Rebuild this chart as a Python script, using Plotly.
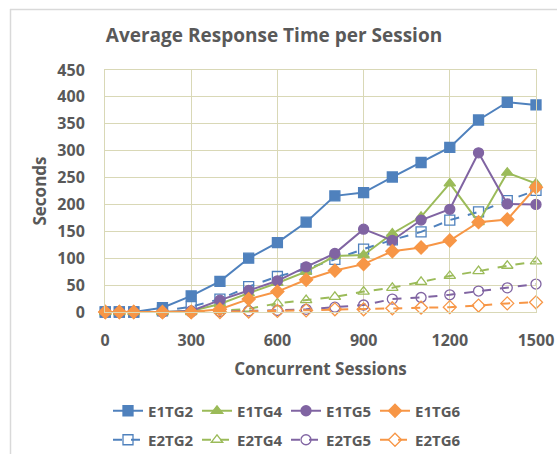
import plotly.graph_objects as go

sessions = [1, 50, 100, 200, 300, 400, 500, 600, 700, 800, 900, 1000, 1100, 1200, 1300, 1400, 1500]

e1tg2 = [0, 0, 0, 8, 30, 57, 100, 129, 167, 216, 222, 251, 278, 306, 357, 390, 385]
e1tg4 = [0, 0, 0, 0, 2, 15, 35, 54, 75, 104, 106, 146, 177, 239, 167, 259, 239]
e1tg5 = [0, 0, 0, 0, 2, 22, 40, 58, 84, 109, 154, 133, 171, 191, 296, 201, 200]
e1tg6 = [0, 0, 0, 0, 0, 5, 24, 38, 60, 77, 89, 113, 120, 133, 167, 172, 232]
e2tg2 = [0, 0, 0, 2, 10, 24, 47, 66, 80, 98, 117, 134, 149, 171, 186, 207, 226]
e2tg4 = [0, 0, 0, 0, 0, 2, 6, 16, 22, 28, 38, 45, 56, 67, 76, 86, 94]
e2tg5 = [0, 0, 0, 0, 0, 1, 2, 3, 5, 9, 13, 24, 27, 32, 39, 45, 52]
e2tg6 = [0, 0, 0, 0, 0, 0, 1, 2, 3, 5, 5, 7, 8, 9, 12, 16, 18]

BLUE = "#4F81BD"
GREEN = "#9BBB59"
PURPLE = "#8064A2"
ORANGE = "#F79646"
TXT = "#595959"
GRID = "#D9D8B6"
FONT = "Open Sans"

series = [
    ("E1TG2", e1tg2, BLUE, "square", "solid", "legend"),
    ("E1TG4", e1tg4, GREEN, "triangle-up", "solid", "legend"),
    ("E1TG5", e1tg5, PURPLE, "circle", "solid", "legend"),
    ("E1TG6", e1tg6, ORANGE, "diamond", "solid", "legend"),
    ("E2TG2", e2tg2, BLUE, "square-open", "dash", "legend2"),
    ("E2TG4", e2tg4, GREEN, "triangle-up-open", "dash", "legend2"),
    ("E2TG5", e2tg5, PURPLE, "circle-open", "dash", "legend2"),
    ("E2TG6", e2tg6, ORANGE, "diamond-open", "dash", "legend2"),
]
rank = {"E1TG2": 1, "E1TG4": 2, "E1TG5": 3, "E1TG6": 4,
        "E2TG2": 1, "E2TG4": 2, "E2TG5": 3, "E2TG6": 4}

fig = go.Figure()
# draw E2 first so E1 lines sit on top
for name, vals, col, sym, dash, lg in series[4:] + series[:4]:
    fig.add_trace(go.Scatter(
        x=sessions, y=vals, name=name, mode="lines+markers",
        line=dict(color=col, width=2, dash=dash),
        marker=dict(symbol=sym, size=10, color=col,
                    line=dict(color=col, width=1.3)),
        cliponaxis=False, legend=lg, legendrank=rank[name],
    ))

L, R, T, B = 105, 21, 70, 142
W, H = 557, 454
pw, ph = W - L - R, H - T - B

def px(x):
    return (x - L) / pw

def py(y):
    return (H - B - y) / ph

legend_common = dict(
    orientation="h", xanchor="left", yanchor="middle",
    font=dict(family=FONT, size=15, color=TXT, weight="bold"),
    itemwidth=30, bgcolor="rgba(0,0,0,0)", traceorder="normal",
    entrywidth=44,
)

fig.update_layout(
    width=W, height=H,
    margin=dict(l=L, r=R, t=T, b=B, autoexpand=False),
    paper_bgcolor="white", plot_bgcolor="white",
    title=dict(text="Average Response Time per Session",
               font=dict(family=FONT, size=19, color=TXT, weight="bold"),
               x=px(274), xanchor="center", xref="paper",
               y=1 - 35 / H, yanchor="middle"),
    xaxis=dict(range=[0, 1500], tickvals=[0, 300, 600, 900, 1200, 1500],
               showgrid=True, gridcolor=GRID, gridwidth=1, automargin=False,
               zeroline=False, showline=True, linecolor=GRID, mirror=True,
               tickfont=dict(family=FONT, size=16, color=TXT, weight="bold"),
               ticks="", ticklabelstandoff=14,
               title=dict(text="Concurrent Sessions", standoff=12,
                          font=dict(family=FONT, size=17, color=TXT, weight="bold"))),
    yaxis=dict(range=[0, 450], dtick=50,
               showgrid=True, gridcolor=GRID, gridwidth=1, automargin=False,
               zeroline=False, showline=True, linecolor=GRID, mirror=True,
               tickfont=dict(family=FONT, size=16, color=TXT, weight="bold"),
               ticks="", ticklabelstandoff=16,
               title=dict(text="Seconds", standoff=6,
                          font=dict(family=FONT, size=17, color=TXT, weight="bold"))),
    legend=dict(x=px(108), y=py(411), **legend_common),
    legend2=dict(x=px(108), y=py(440), **legend_common),
    shapes=[
        dict(type="line", xref="paper", yref="paper", x0=px(10), x1=px(557),
             y0=py(9.5), y1=py(9.5), line=dict(color="#D9D9D9", width=1.5)),
        dict(type="line", xref="paper", yref="paper", x0=px(10.5), x1=px(10.5),
             y0=py(9), y1=py(454), line=dict(color="#D9D9D9", width=1.5)),
    ],
)

fig.write_html("out.html")
